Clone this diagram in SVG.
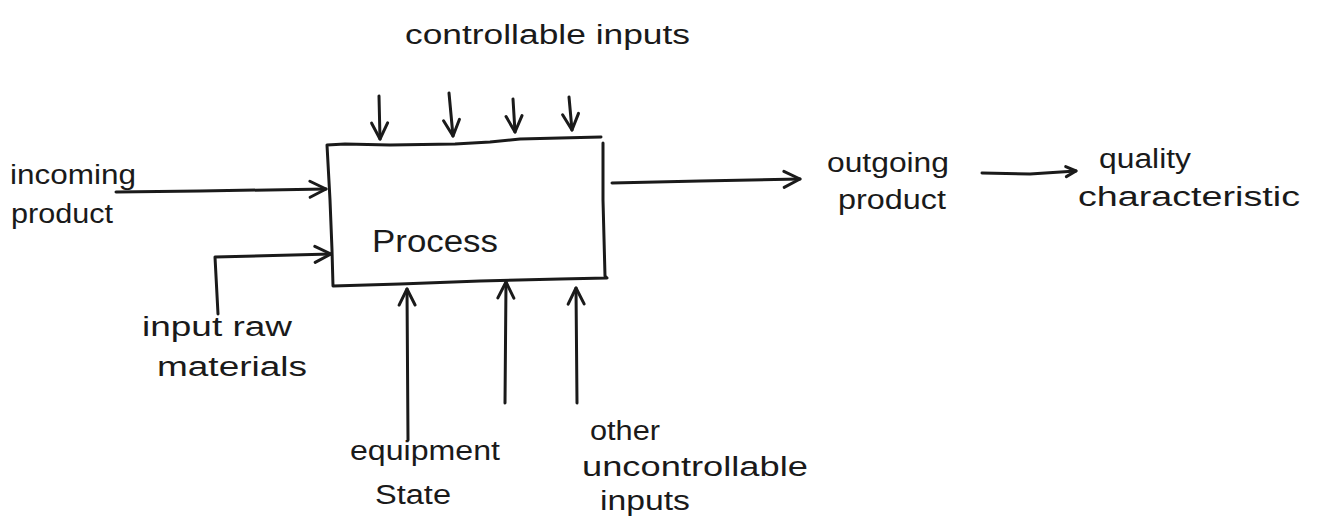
<svg xmlns="http://www.w3.org/2000/svg" width="1330" height="519" viewBox="0 0 1330 519">
  <style>
    .ink { fill: none; stroke: #1a1a1a; stroke-width: 3; stroke-linecap: round; stroke-linejoin: round; }
    .lbl { font-family: "Liberation Sans", "DejaVu Sans", sans-serif; font-size: 27px; fill: #1a1a1a; }
    .big { font-size: 31px; }
  </style>
  <defs>
    <marker id="vhead" markerUnits="userSpaceOnUse" markerWidth="24" markerHeight="24" viewBox="-20 -12 24 24" refX="0" refY="0" orient="auto">
      <path d="M-16,-8 L0,0 L-16,8" fill="none" stroke="#1a1a1a" stroke-width="3" stroke-linecap="round" stroke-linejoin="round"/>
    </marker>
    <marker id="vhead-small" markerUnits="userSpaceOnUse" markerWidth="16" markerHeight="16" viewBox="-14 -8 16 16" refX="0" refY="0" orient="auto">
      <path d="M-10,-5 L0,0 L-10,5" fill="none" stroke="#1a1a1a" stroke-width="3" stroke-linecap="round" stroke-linejoin="round"/>
    </marker>
  </defs>
  <rect width="1330" height="519" fill="#ffffff"/>

  <!-- process block -->
  <g id="process">
    <path class="ink" d="M327,145 L345,144 L390,145 L455,144 L490,142 L520,139 L560,138 L601,137 M603,143 L603,200 L605,276 L607,278 L560,279 L480,281 L400,284 L333,286 L332,250 L330,200 L327,145"/>
    <text class="lbl big" x="372" y="252" textLength="126" lengthAdjust="spacingAndGlyphs">Process</text>
  </g>

  <g id="controllable-inputs">
    <text class="lbl" x="405" y="44" textLength="285" lengthAdjust="spacingAndGlyphs">controllable inputs</text>
  </g>
  <g id="incoming-product">
    <text class="lbl" x="10" y="184" textLength="126" lengthAdjust="spacingAndGlyphs">incoming</text>
    <text class="lbl" x="11" y="223" textLength="102" lengthAdjust="spacingAndGlyphs">product</text>
  </g>
  <g id="raw-materials">
    <text class="lbl" x="142" y="336" textLength="150" lengthAdjust="spacingAndGlyphs">input raw</text>
    <text class="lbl" x="157" y="376" textLength="150" lengthAdjust="spacingAndGlyphs">materials</text>
  </g>
  <g id="outgoing-product">
    <text class="lbl" x="827" y="172" textLength="122" lengthAdjust="spacingAndGlyphs">outgoing</text>
    <text class="lbl" x="838" y="209" textLength="108" lengthAdjust="spacingAndGlyphs">product</text>
  </g>
  <g id="quality-characteristic">
    <text class="lbl" x="1099" y="168" textLength="92" lengthAdjust="spacingAndGlyphs">quality</text>
    <text class="lbl" x="1078" y="206" textLength="222" lengthAdjust="spacingAndGlyphs">characteristic</text>
  </g>
  <g id="equipment-state">
    <text class="lbl" x="350" y="460" textLength="150" lengthAdjust="spacingAndGlyphs">equipment</text>
    <text class="lbl" x="375" y="504" textLength="76" lengthAdjust="spacingAndGlyphs">State</text>
  </g>
  <g id="uncontrollable-inputs">
    <text class="lbl" x="590" y="440" textLength="70" lengthAdjust="spacingAndGlyphs">other</text>
    <text class="lbl" x="582" y="476" textLength="226" lengthAdjust="spacingAndGlyphs">uncontrollable</text>
    <text class="lbl" x="600" y="510" textLength="90" lengthAdjust="spacingAndGlyphs">inputs</text>
  </g>

  <!-- connectors -->
  <g id="connectors" class="ink">
    <path marker-end="url(#vhead)" d="M379,96 L380,139"/>
    <path marker-end="url(#vhead)" d="M449,93 L453,136"/>
    <path marker-end="url(#vhead)" d="M513,99 L515,132"/>
    <path marker-end="url(#vhead)" d="M569,97 L572,130"/>

    <path marker-end="url(#vhead)" d="M116,192 L200,191 L326,189"/>
    <path marker-end="url(#vhead)" d="M218,314 L215,257 L331,254"/>

    <path marker-end="url(#vhead)" d="M612,183 L700,181 L800,179"/>
    <path marker-end="url(#vhead-small)" d="M982,173 L1030,174 L1076,171"/>

    <path marker-end="url(#vhead)" d="M408,440 L407,289"/>
    <path marker-end="url(#vhead)" d="M505,403 L506,282"/>
    <path marker-end="url(#vhead)" d="M577,403 L576,288"/>
  </g>
</svg>
